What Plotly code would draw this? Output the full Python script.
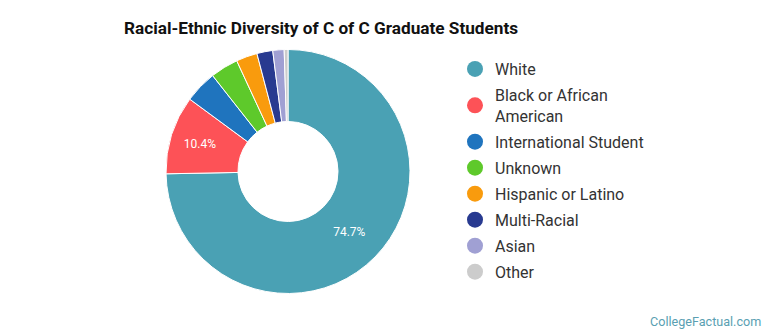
import plotly.graph_objects as go

categories = ["White", "Black or African American", "International Student", "Unknown",
              "Hispanic or Latino", "Multi-Racial", "Asian", "Other"]
legend_labels = ["White", "Black or African<br>American", "International Student", "Unknown",
                 "Hispanic or Latino", "Multi-Racial", "Asian", "Other"]
values = [74.7, 10.4, 4.3, 3.7, 2.8, 2.1, 1.5, 0.5]
colors = ["#4aa1b4", "#fd5257", "#1f74be", "#5ec92b", "#f99b0d", "#283a90", "#a0a0d3", "#cccccc"]
label_threshold = 5.0

W, H = 770, 335
cx, cy, R = 288, 171.5, 122

texts = [f"{v:.1f}%" if v > label_threshold else "" for v in values]

fig = go.Figure()
fig.add_trace(go.Pie(
    labels=categories, values=values, sort=False, direction="clockwise", rotation=0,
    hole=0.41, marker=dict(colors=colors, line=dict(color="white", width=1)),
    text=texts, textinfo="text", textposition="inside", insidetextorientation="horizontal",
    textfont=dict(family="Roboto", size=12, color="white"),
    showlegend=False, hoverinfo="label+percent",
    domain=dict(x=[(cx - R) / W, (cx + R) / W], y=[(H - cy - R) / H, (H - cy + R) / H]),
))

for i, (name, col) in enumerate(zip(legend_labels, colors)):
    fig.add_trace(go.Scatter(
        x=[None], y=[None], mode="markers", name=name, legendgroup=f"g{i}",
        marker=dict(symbol="circle", size=16, color=col), hoverinfo="skip",
    ))

fig.update_layout(
    width=W, height=H, margin=dict(l=0, r=0, t=0, b=0),
    paper_bgcolor="white", plot_bgcolor="white",
    xaxis=dict(visible=False), yaxis=dict(visible=False),
    title=dict(text="<b>Racial-Ethnic Diversity of C of C Graduate Students</b>",
               x=124 / W, xanchor="left", xref="paper", y=1 - 28 / H, yanchor="middle", yref="container",
               font=dict(family="Roboto", size=17.2, color="#111111")),
    legend=dict(x=455 / W, xanchor="left", y=1 - 52 / H, yanchor="top",
                traceorder="grouped", tracegroupgap=2.2, itemsizing="trace",
                font=dict(family="Roboto", size=16, color="#333333"),
                bgcolor="rgba(0,0,0,0)"),
    annotations=[dict(text="CollegeFactual.com", x=763 / W, y=1 - 321 / H, xref="paper", yref="paper",
                      xanchor="right", yanchor="middle", showarrow=False,
                      font=dict(family="Roboto", size=12.6, color="#5a9fb2"))],
)

fig.write_html("out.html")
